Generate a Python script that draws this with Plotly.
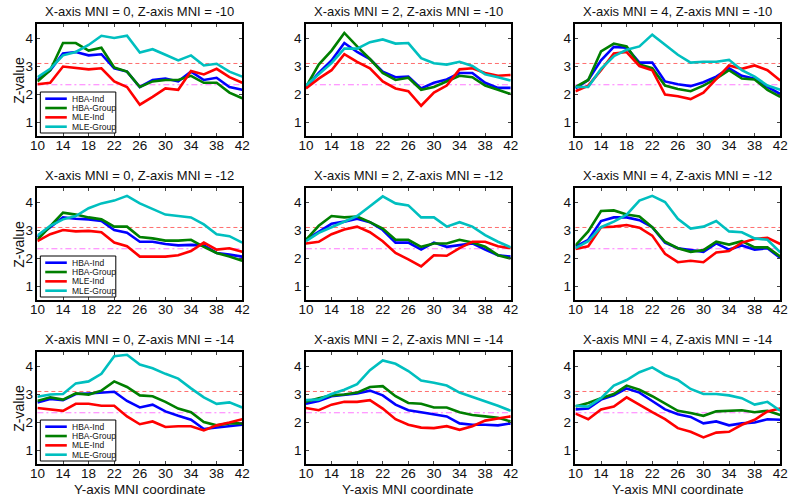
import plotly.graph_objects as go
from plotly.subplots import make_subplots

# Y-axis MNI coordinate (x of each panel)
y_mni = [10, 12, 14, 16, 18, 20, 22, 24, 26, 28, 30, 32, 34, 36, 38, 40, 42]
x_mni = [0, 2, 4]
z_mni = [-10, -12, -14]

series = ["HBA-Ind", "HBA-Group", "MLE-Ind", "MLE-Group"]
colors = ["#0000ff", "#007f00", "#ff0000", "#00bfbf"]

thr_p001 = 3.09
thr_p01 = 2.33

# Z-values per panel, keyed (x MNI, z MNI)
hba_ind = {
    (0, -10): [2.5, 2.85, 3.45, 3.5, 3.38, 3.42, 2.92, 2.8, 2.25, 2.5, 2.55, 2.45, 2.8, 2.5, 2.58, 2.25, 2.15],
    (2, -10): [2.25, 2.75, 3.2, 3.82, 3.5, 3.25, 2.8, 2.6, 2.62, 2.2, 2.4, 2.52, 2.75, 2.75, 2.4, 2.22, 2.22],
    (4, -10): [2.2, 2.5, 3.2, 3.68, 3.65, 3.12, 3.12, 2.45, 2.35, 2.28, 2.42, 2.62, 2.92, 2.65, 2.55, 2.25, 2.0],
    (0, -12): [2.75, 3.1, 3.45, 3.4, 3.38, 3.32, 3.0, 2.9, 2.58, 2.58, 2.5, 2.45, 2.47, 2.45, 2.18, 2.12, 2.05],
    (2, -12): [2.65, 2.95, 3.22, 3.3, 3.4, 3.28, 3.0, 2.55, 2.55, 2.3, 2.55, 2.4, 2.45, 2.52, 2.3, 2.1, 2.05],
    (4, -12): [2.4, 2.65, 3.32, 3.45, 3.45, 3.35, 3.1, 2.55, 2.35, 2.28, 2.22, 2.52, 2.3, 2.45, 2.3, 2.35, 2.0],
    (0, -14): [2.7, 2.82, 2.78, 3.0, 3.02, 3.05, 3.08, 2.75, 2.52, 2.62, 2.38, 2.22, 2.08, 1.75, 1.8, 1.85, 1.9],
    (2, -14): [2.65, 2.75, 2.92, 2.98, 3.02, 3.12, 2.95, 2.62, 2.42, 2.35, 2.28, 2.2, 1.95, 1.9, 1.9, 1.88, 1.95],
    (4, -14): [2.45, 2.48, 2.8, 2.95, 3.2, 3.05, 2.75, 2.45, 2.28, 2.18, 1.95, 2.02, 1.88, 1.95, 1.98, 2.1, 2.08],
}
hba_group = {
    (0, -10): [2.45, 2.85, 3.82, 3.82, 3.55, 3.65, 2.95, 2.8, 2.25, 2.45, 2.5, 2.5, 2.65, 2.4, 2.4, 2.05, 1.85],
    (2, -10): [2.25, 3.05, 3.55, 4.18, 3.7, 3.25, 2.75, 2.5, 2.58, 2.15, 2.25, 2.45, 2.65, 2.6, 2.3, 2.15, 2.0],
    (4, -10): [2.25, 2.5, 3.52, 3.8, 3.7, 3.05, 2.92, 2.3, 2.18, 2.1, 2.3, 2.55, 2.85, 2.55, 2.52, 2.15, 1.9],
    (0, -12): [2.65, 3.15, 3.62, 3.55, 3.45, 3.38, 3.12, 3.12, 2.75, 2.7, 2.62, 2.62, 2.65, 2.4, 2.18, 2.05, 1.9],
    (2, -12): [2.65, 3.15, 3.5, 3.45, 3.48, 3.28, 3.05, 2.65, 2.65, 2.4, 2.52, 2.52, 2.65, 2.55, 2.4, 2.1, 1.98],
    (4, -12): [2.45, 2.95, 3.68, 3.7, 3.55, 3.48, 3.1, 2.58, 2.35, 2.22, 2.28, 2.58, 2.48, 2.6, 2.38, 2.38, 2.05],
    (0, -14): [2.75, 2.88, 2.8, 3.02, 2.98, 3.12, 3.45, 3.25, 2.95, 2.92, 2.72, 2.48, 2.35, 2.0, 1.88, 1.95, 1.95],
    (2, -14): [2.72, 2.85, 2.95, 2.98, 3.05, 3.25, 3.28, 2.92, 2.68, 2.65, 2.52, 2.52, 2.35, 2.25, 2.2, 2.15, 2.02],
    (4, -14): [2.55, 2.68, 2.85, 3.0, 3.3, 3.15, 2.92, 2.65, 2.4, 2.32, 2.22, 2.38, 2.4, 2.42, 2.35, 2.4, 2.25],
}
mle_ind = {
    (0, -10): [2.35, 2.4, 2.98, 2.92, 2.88, 2.92, 2.45, 2.25, 1.62, 1.9, 2.2, 2.15, 2.82, 2.7, 2.9, 2.6, 2.4],
    (2, -10): [2.2, 2.55, 2.85, 3.42, 3.15, 2.92, 2.45, 2.2, 2.1, 1.58, 2.05, 2.3, 2.88, 2.92, 2.75, 2.65, 2.68],
    (4, -10): [2.1, 2.3, 2.85, 3.45, 3.5, 3.0, 2.85, 1.98, 1.92, 1.82, 2.05, 2.55, 3.02, 2.9, 3.02, 2.85, 2.48],
    (0, -12): [2.6, 2.85, 3.0, 2.95, 2.97, 2.92, 2.55, 2.42, 2.05, 2.05, 2.05, 2.1, 2.25, 2.55, 2.3, 2.35, 2.22],
    (2, -12): [2.52, 2.58, 2.85, 3.02, 3.12, 2.92, 2.6, 2.18, 1.95, 1.7, 2.1, 2.08, 2.35, 2.58, 2.58, 2.42, 2.35],
    (4, -12): [2.32, 2.42, 3.1, 3.12, 3.18, 3.08, 2.8, 2.15, 1.85, 1.9, 1.85, 2.2, 2.25, 2.55, 2.68, 2.72, 2.5],
    (0, -14): [2.5, 2.45, 2.4, 2.65, 2.65, 2.58, 2.58, 2.2, 1.92, 2.02, 1.82, 1.85, 1.85, 1.7, 1.88, 1.98, 2.1],
    (2, -14): [2.5, 2.42, 2.62, 2.72, 2.72, 2.78, 2.48, 2.1, 1.9, 1.8, 1.78, 1.85, 1.72, 1.85, 2.05, 2.12, 2.2],
    (4, -14): [2.3, 2.1, 2.45, 2.55, 2.88, 2.6, 2.35, 2.1, 1.78, 1.65, 1.45, 1.62, 1.65, 1.9, 2.08, 2.38, 2.48],
}
mle_group = {
    (0, -10): [2.6, 2.9, 3.38, 3.5, 3.75, 4.08, 4.0, 4.08, 3.48, 3.6, 3.4, 3.2, 3.38, 3.02, 3.08, 2.8, 2.62],
    (2, -10): [2.3, 2.7, 3.1, 3.62, 3.62, 3.85, 3.95, 3.8, 3.82, 3.28, 3.1, 3.05, 3.15, 3.0, 2.7, 2.6, 2.48],
    (4, -10): [2.25, 2.25, 2.9, 3.35, 3.58, 3.7, 4.12, 3.75, 3.4, 3.12, 3.15, 3.15, 3.22, 2.85, 2.62, 2.3, 2.15],
    (0, -12): [2.8, 3.15, 3.38, 3.5, 3.78, 3.95, 4.05, 4.22, 3.95, 3.75, 3.55, 3.5, 3.45, 3.2, 2.85, 2.78, 2.55],
    (2, -12): [2.6, 2.9, 3.1, 3.3, 3.5, 3.85, 4.2, 3.95, 3.88, 3.45, 3.45, 3.12, 3.28, 3.12, 2.82, 2.58, 2.38],
    (4, -12): [2.35, 2.6, 3.1, 3.3, 3.55, 4.05, 4.22, 4.0, 3.4, 3.05, 3.12, 3.32, 2.95, 2.92, 2.7, 2.65, 2.2],
    (0, -14): [2.9, 2.98, 3.0, 3.38, 3.45, 3.72, 4.35, 4.4, 4.05, 3.92, 3.72, 3.55, 3.2, 2.88, 2.65, 2.7, 2.52],
    (2, -14): [2.78, 2.8, 3.0, 3.15, 3.35, 3.85, 4.2, 4.08, 3.82, 3.48, 3.4, 3.3, 3.05, 2.9, 2.75, 2.58, 2.4],
    (4, -14): [2.58, 2.55, 2.85, 3.3, 3.5, 3.78, 3.95, 3.68, 3.5, 3.18, 3.0, 3.0, 2.95, 2.85, 2.62, 2.72, 2.4],
}
all_series = [hba_ind, hba_group, mle_ind, mle_group]

W, H = 800, 497
col_left = [30, 304, 579]
row_top = [24, 188, 352]
pw, ph = 209, 112
FONT = "Liberation Sans, Arial, Helvetica, sans-serif"

fig = make_subplots(rows=3, cols=3)
shapes = []
annotations = []

for r, z in enumerate(z_mni):
    for c, xm in enumerate(x_mni):
        i = r * 3 + c
        sfx = "" if i == 0 else str(i + 1)
        for name, col, data in zip(series, colors, all_series):
            fig.add_trace(go.Scatter(
                x=y_mni, y=data[(xm, z)], mode="lines", name=name,
                line=dict(color=col, width=2.6), showlegend=False,
            ), row=r + 1, col=c + 1)

        x0, y0 = col_left[c], row_top[r]
        fig.layout["xaxis" + sfx].update(domain=[x0 / W, (x0 + pw) / W])
        fig.layout["yaxis" + sfx].update(domain=[1 - (y0 + ph) / H, 1 - y0 / H])

        # threshold lines
        shapes.append(dict(type="line", xref="x" + sfx + " domain", yref="y" + sfx,
                           x0=0, x1=1, y0=thr_p001, y1=thr_p001, layer="below",
                           line=dict(color="rgb(255,110,110)", width=1, dash="4px,3px")))
        shapes.append(dict(type="line", xref="x" + sfx + " domain", yref="y" + sfx,
                           x0=0, x1=1, y0=thr_p01, y1=thr_p01, layer="below",
                           line=dict(color="rgb(255,120,255)", width=1,
                                     dash="6px,3px,2px,3px")))

        annotations.append(dict(
            text=f"X-axis MNI = {xm}, Z-axis MNI = {z}", xref="paper", yref="paper",
            x=(x0 + pw / 2) / W, y=1 - (y0 - 13) / H, showarrow=False,
            xanchor="center", yanchor="middle", font=dict(size=13, color="#111")))

        if c == 0:
            annotations.append(dict(
                text="Z-value", xref="paper", yref="paper", textangle=-90,
                x=11 / W, y=1 - (y0 + ph / 2) / H, showarrow=False,
                xanchor="center", yanchor="middle", font=dict(size=14, color="#111")))
            # legend box
            shapes.append(dict(type="rect", xref="paper", yref="paper",
                               x0=(x0 + 3) / W, x1=(x0 + 80) / W,
                               y0=1 - (y0 + 109) / H, y1=1 - (y0 + 68) / H,
                               fillcolor="white", line=dict(color="black", width=1)))
            for k, (name, col) in enumerate(zip(series, colors)):
                yy = 1 - (y0 + 74.7 + k * 9.33) / H
                shapes.append(dict(type="line", xref="paper", yref="paper",
                                   x0=(x0 + 8) / W, x1=(x0 + 30) / W, y0=yy, y1=yy,
                                   line=dict(color=col, width=2.6)))
                annotations.append(dict(
                    text=name, xref="paper", yref="paper", x=(x0 + 33) / W, y=yy,
                    showarrow=False, xanchor="left", yanchor="middle",
                    font=dict(size=8.5, color="#111")))
        if r == 2:
            annotations.append(dict(
                text="Y-axis MNI coordinate", xref="paper", yref="paper",
                x=(x0 + pw / 2) / W, y=1 - 489 / H, showarrow=False,
                xanchor="center", yanchor="middle", font=dict(size=13.5, color="#111")))

fig.update_xaxes(range=[10, 42], tickvals=list(range(10, 43, 4)), ticks="inside",
                 ticklen=3, showline=True, linecolor="black", linewidth=1.5,
                 mirror="allticks", showgrid=False, zeroline=False,
                 ticklabelstandoff=-4,
                 tickfont=dict(size=13.5, color="#111"))
fig.update_yaxes(range=[0.5, 4.5], tickvals=[1, 2, 3, 4], ticks="inside",
                 ticklen=3, showline=True, linecolor="black", linewidth=1.5,
                 mirror="allticks", showgrid=False, zeroline=False,
                 tickfont=dict(size=13.5, color="#111"))

fig.update_layout(
    width=W, height=H, margin=dict(l=0, r=0, t=0, b=0),
    paper_bgcolor="white", plot_bgcolor="white",
    font=dict(family=FONT), shapes=shapes, annotations=annotations,
    showlegend=False,
)

fig.write_html("out.html", config={"displayModeBar": False},
               post_script="document.body.style.margin='0';")
